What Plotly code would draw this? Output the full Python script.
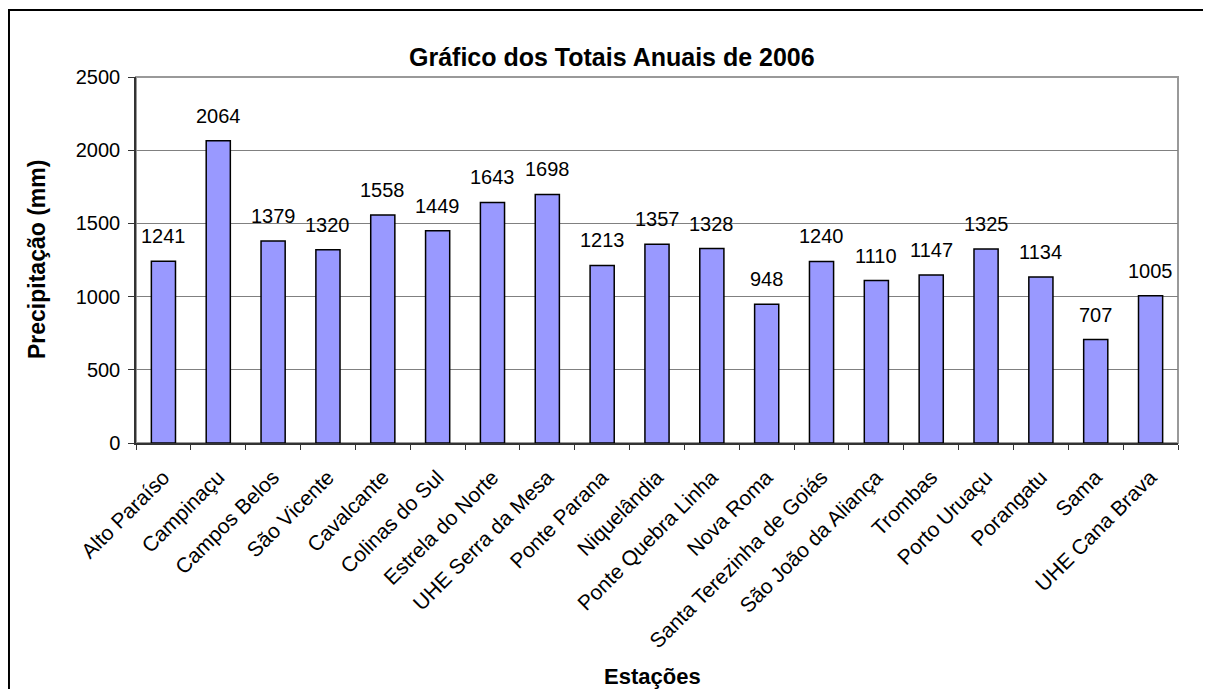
import plotly.graph_objects as go

estacoes = ['Alto Paraíso', 'Campinaçu', 'Campos Belos', 'São Vicente', 'Cavalcante',
            'Colinas do Sul', 'Estrela do Norte', 'UHE Serra da Mesa', 'Ponte Parana',
            'Niquelândia', 'Ponte Quebra Linha', 'Nova Roma', 'Santa Terezinha de Goiás',
            'São João da Aliança', 'Trombas', 'Porto Uruaçu', 'Porangatu', 'Sama',
            'UHE Cana Brava']
totais = [1241, 2064, 1379, 1320, 1558, 1449, 1643, 1698, 1213, 1357, 1328, 948,
          1240, 1110, 1147, 1325, 1134, 707, 1005]

fonte = 'Liberation Sans, Arial, sans-serif'

fig = go.Figure()
fig.add_trace(go.Bar(x=estacoes, y=totais,
                     marker=dict(color='#9999FF', line=dict(color='black', width=1.5))))

# rotulos de dados acima das barras
rotulos = [dict(x=e, y=v, text=str(v), showarrow=False, yanchor='middle', yshift=25,
                font=dict(size=20, color='black'))
           for e, v in zip(estacoes, totais)]

fig.update_layout(
    width=1195, height=681,
    margin=dict(l=128, r=25, t=69, b=246, autoexpand=False),
    paper_bgcolor='white', plot_bgcolor='white',
    showlegend=False, bargap=0.56,
    font=dict(family=fonte, color='black'),
    shapes=[
        # borda externa do grafico
        dict(type='rect', xref='paper', yref='paper', x0=-0.1219, y0=-1.5, x1=1.2, y1=1.183,
             line=dict(color='black', width=2), layer='below'),
        # borda da area de plotagem
        dict(type='rect', xref='paper', yref='paper', x0=0, y0=0, x1=1, y1=1,
             line=dict(color='#999999', width=2), layer='below'),
    ],
    annotations=rotulos + [
        dict(text='<b>Gráfico dos Totais Anuais de 2006</b>', xref='paper', yref='paper',
             x=0.457, y=1.0546, xanchor='center', yanchor='middle', showarrow=False,
             font=dict(size=25)),
        dict(text='<b>Precipitação (mm)</b>', xref='paper', yref='paper',
             x=-0.095, y=0.5, xanchor='center', yanchor='middle', textangle=-90,
             showarrow=False, font=dict(size=23)),
        dict(text='<b>Estações</b>', xref='paper', yref='paper',
             x=0.496, y=-0.639, xanchor='center', yanchor='middle', showarrow=False,
             font=dict(size=22)),
    ],
)

fig.update_xaxes(tickangle=-45, tickfont=dict(size=21), ticks='outside', tickson='boundaries',
                 ticklen=5, tickcolor='#333333', showline=True, linecolor='#333333',
                 linewidth=1.5, showgrid=False, automargin=False, ticklabelstandoff=12)
fig.update_yaxes(range=[0, 2500], dtick=500, tickfont=dict(size=20), ticks='outside',
                 ticklen=6, tickcolor='#333333', showline=True, linecolor='#333333',
                 linewidth=1.5, gridcolor='#808080', gridwidth=1, zeroline=False,
                 automargin=False, ticklabelstandoff=4)

fig.write_html('out.html')
